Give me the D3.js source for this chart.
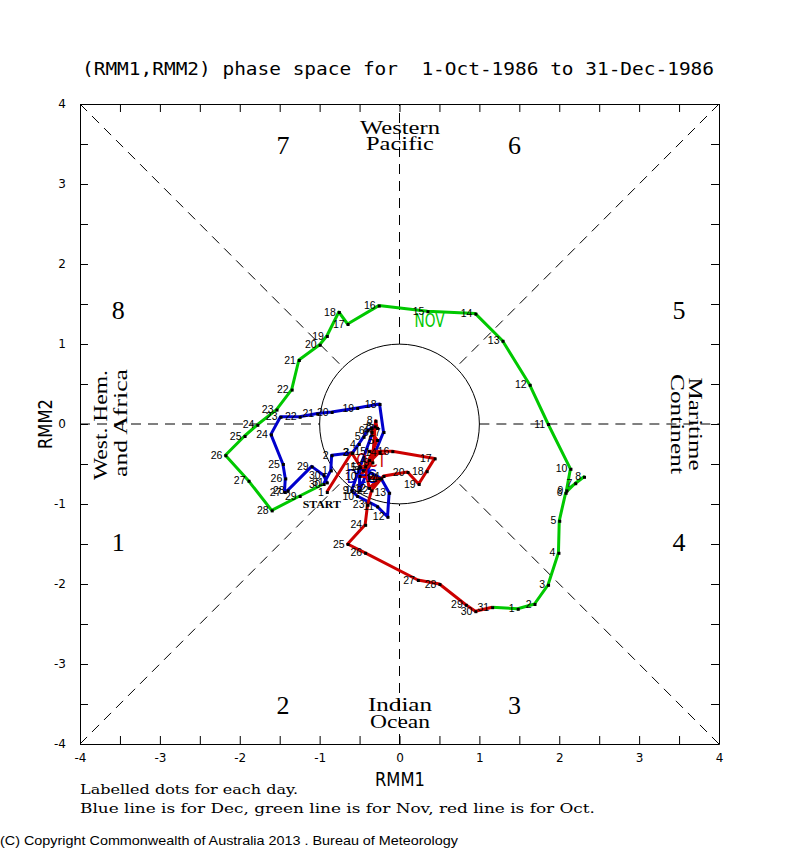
<!DOCTYPE html>
<html>
<head>
<meta charset="utf-8">
<script src="https://cdn.jsdelivr.net/npm/d3@7"></script>
<style>
  body { margin: 0; background: #fff; }
</style>
</head>
<body>
<div id="chart"></div>
<script>
// daily (RMM1, RMM2) values
var octRmm1 = [-0.91, -0.60, -0.46, -0.38, -0.28, -0.35, -0.28, -0.30, -0.34, -0.50,
               -0.25, -0.38, -0.43, -0.25, -0.38, -0.09, 0.44, 0.34, 0.24, 0.10,
               -0.20, -0.35, -0.40, -0.43, -0.65, -0.43, 0.23, 0.50, 0.83, 0.95, 1.16];
var octRmm2 = [-0.85, -0.36, -0.58, -0.45, -0.20, -0.10, -0.05, 0.04, -0.48, -0.65,
               -0.68, -0.80, -0.53, -0.35, -0.34, -0.34, -0.43, -0.59, -0.75, -0.60,
               -0.65, -0.83, -1.01, -1.26, -1.50, -1.61, -1.95, -2.00, -2.26, -2.34, -2.29];

var novRmm1 = [1.48, 1.69, 1.86, 1.99, 2.00, 2.08, 2.20, 2.31, 2.09, 2.14,
               1.86, 1.63, 1.29, 0.95, 0.35, -0.26, -0.65, -0.76, -0.91, -1.00,
               -1.26, -1.35, -1.54, -1.78, -1.94, -2.18, -1.89, -1.60, -1.25, -0.95];
var novRmm2 = [-2.31, -2.25, -2.01, -1.61, -1.21, -0.86, -0.74, -0.66, -0.83, -0.56,
               0.00, 0.49, 1.04, 1.38, 1.41, 1.48, 1.25, 1.40, 1.10, 0.99,
               0.80, 0.43, 0.18, -0.01, -0.15, -0.39, -0.71, -1.08, -0.90, -0.75];

var decRmm1 = [-0.86, -0.85, -0.59, -0.51, -0.45, -0.40, -0.35, -0.31, -0.60, -0.53,
               -0.28, -0.15, -0.13, -0.23, -0.50, -0.50, -0.20, -0.25, -0.53, -0.85,
               -1.03, -1.25, -1.49, -1.61, -1.46, -1.43, -1.44, -1.40, -1.10, -0.95, -0.91];
var decRmm2 = [-0.58, -0.39, -0.36, -0.25, -0.16, -0.08, -0.05, -0.03, -0.83, -0.90,
               -1.03, -1.16, -0.86, -0.68, -0.54, -0.83, -0.10, 0.25, 0.20, 0.15,
               0.13, 0.09, 0.09, -0.13, -0.50, -0.68, -0.85, -0.83, -0.53, -0.64, -0.73];

var monthNames = ["OCT", "NOV", "DEC"];
var tickValues = [-4, -3.5, -3, -2.5, -2, -1.5, -1, -0.5, 0, 0.5, 1, 1.5, 2, 2.5, 3, 3.5, 4];
var phaseNames = ["1", "2", "3", "4", "5", "6", "7", "8"];

var width = 800, height = 850;
var svg = d3.select("#chart").append("svg")
  .attr("width", width)
  .attr("height", height)
  .style("background", "#fff");

//scales
var x = d3.scaleLinear().domain([-4, 4]).range([80, 719]);
var y = d3.scaleLinear().domain([-4, 4]).range([744, 104]);

var sans = "'DejaVu Sans', sans-serif";
var serif = "'Liberation Serif', 'DejaVu Serif', serif";

//title
svg.append("text")
  .attr("x", 398).attr("y", 75)
  .attr("text-anchor", "middle")
  .attr("textLength", 632).attr("lengthAdjust", "spacingAndGlyphs")
  .style("white-space", "pre")
  .style("font-family", "'DejaVu Sans Mono', monospace")
  .style("font-size", "18px")
  .text("(RMM1,RMM2) phase space for  1-Oct-1986 to 31-Dec-1986");

//dashed guides
var r = 1 / Math.SQRT2;
var guides = [
  [[-4, -4], [-r, -r]], [[4, 4], [r, r]], [[-4, 4], [-r, r]], [[4, -4], [r, -r]],
  [[-4, 0], [-1, 0]], [[1, 0], [4, 0]], [[0, -4], [0, -1]], [[0, 1], [0, 4]]
];
svg.append("g").selectAll("line").data(guides).enter().append("line")
  .attr("x1", function(d) { return x(d[0][0]); })
  .attr("y1", function(d) { return y(d[0][1]); })
  .attr("x2", function(d) { return x(d[1][0]); })
  .attr("y2", function(d) { return y(d[1][1]); })
  .attr("stroke", "#000")
  .attr("stroke-width", 1)
  .attr("stroke-dasharray", "10,7");

//unit circle
svg.append("circle")
  .attr("cx", x(0)).attr("cy", y(0))
  .attr("r", x(1) - x(0))
  .attr("fill", "none").attr("stroke", "#000").attr("stroke-width", 1);

//axes
var fmt = function(d) { return d % 1 === 0 ? d : ""; };
var axes = svg.append("g").attr("class", "axes");
axes.append("g").attr("transform", "translate(0," + y(-4) + ")")
  .call(d3.axisBottom(x).tickValues(tickValues).tickSize(-8).tickSizeOuter(0).tickPadding(9).tickFormat(fmt));
axes.append("g").attr("transform", "translate(0," + y(4) + ")")
  .call(d3.axisTop(x).tickValues(tickValues).tickSize(-8).tickSizeOuter(0).tickFormat(""));
axes.append("g").attr("transform", "translate(" + x(-4) + ",0)")
  .call(d3.axisLeft(y).tickValues(tickValues).tickSize(-8).tickSizeOuter(0).tickPadding(14).tickFormat(fmt));
axes.append("g").attr("transform", "translate(" + x(4) + ",0)")
  .call(d3.axisRight(y).tickValues(tickValues).tickSize(-8).tickSizeOuter(0).tickFormat(""));
axes.selectAll("text").style("font-family", sans).style("font-size", "12px").attr("fill", "#000");
axes.selectAll("line").attr("stroke", "#000");
axes.selectAll(".domain").attr("stroke", "#000");

//axis titles
svg.append("text")
  .attr("x", 400).attr("y", 786)
  .attr("text-anchor", "middle")
  .attr("textLength", 50).attr("lengthAdjust", "spacingAndGlyphs")
  .style("font-family", sans).style("font-size", "20px")
  .text("RMM1");
svg.append("text")
  .attr("transform", "translate(52,424) rotate(-90)")
  .attr("text-anchor", "middle")
  .attr("textLength", 50).attr("lengthAdjust", "spacingAndGlyphs")
  .style("font-family", sans).style("font-size", "20px")
  .text("RMM2");

//phase numbers
var phasePos = [[-3.52, -1.47], [-1.46, -3.51], [1.44, -3.51], [3.5, -1.47],
                [3.5, 1.43], [1.44, 3.49], [-1.46, 3.49], [-3.52, 1.43]];
svg.append("g").selectAll("text").data(phaseNames).enter().append("text")
  .attr("x", function(d, i) { return x(phasePos[i][0]); })
  .attr("y", function(d, i) { return y(phasePos[i][1]); })
  .attr("dy", "0.35em")
  .attr("text-anchor", "middle")
  .style("font-family", serif).style("font-size", "26px")
  .text(function(d) { return d; });

//region names
function region(txt, tx, ty, rot, len) {
  svg.append("text")
    .attr("transform", "translate(" + tx + "," + ty + ") rotate(" + rot + ")")
    .attr("text-anchor", "middle")
    .attr("textLength", len).attr("lengthAdjust", "spacingAndGlyphs")
    .style("font-family", serif).style("font-size", "18px")
    .text(txt);
}
region("Western", 400, 134, 0, 80);
region("Pacific", 400, 150, 0, 68);
region("Indian", 400, 711, 0, 64);
region("Ocean", 400, 728, 0, 60);
region("West. Hem.", 107, 425, -90, 110);
region("and Africa", 127, 423, -90, 108);
region("Maritime", 689, 424, 90, 93);
region("Continent", 671, 424, 90, 100);

//month tracks
var months = [
  { name: monthNames[0], color: "#cc0000", x: octRmm1, y: octRmm2 },
  { name: monthNames[1], color: "#00c800", x: novRmm1, y: novRmm2 },
  { name: monthNames[2], color: "#0000cc", x: decRmm1, y: decRmm2 }
];
months.forEach(function(m, k) {
  m.pts = m.x.map(function(v, i) { return { day: i + 1, x: v, y: m.y[i] }; });
  //each month line starts from the last day of the previous month
  m.line = k > 0 ? [months[k - 1].pts[months[k - 1].pts.length - 1]].concat(m.pts) : m.pts;
});

var path = d3.line().x(function(d) { return x(d.x); }).y(function(d) { return y(d.y); });
var lineOrder = [months[2], months[1], months[0]];
svg.append("g").selectAll("path").data(lineOrder).enter().append("path")
  .attr("d", function(m) { return path(m.line); })
  .attr("fill", "none")
  .attr("stroke", function(m) { return m.color; })
  .attr("stroke-width", 3)
  .attr("stroke-linejoin", "round");

//month labels at mid month
svg.append("g").selectAll("text").data(months).enter().append("text")
  .attr("x", function(m) { return x(m.pts[14].x) + 2; })
  .attr("y", function(m) { return y(m.pts[14].y) + 16; })
  .attr("text-anchor", "middle")
  .attr("textLength", 30).attr("lengthAdjust", "spacingAndGlyphs")
  .attr("fill", function(m) { return m.color; })
  .style("font-family", sans).style("font-size", "19px")
  .text(function(m) { return m.name; });

//day dots and labels
var allPts = [];
months.forEach(function(m) { allPts = allPts.concat(m.pts); });
var days = svg.append("g");
days.selectAll("rect").data(allPts).enter().append("rect")
  .attr("x", function(d) { return x(d.x) - 1; })
  .attr("y", function(d) { return y(d.y) - 1; })
  .attr("width", 3).attr("height", 3)
  .attr("fill", "#000");
days.selectAll("text").data(allPts).enter().append("text")
  .attr("x", function(d) { return x(d.x) - 3; })
  .attr("y", function(d) { return y(d.y); })
  .attr("dy", "0.35em")
  .attr("text-anchor", "end")
  .style("font-family", "'Liberation Sans', Arial, sans-serif")
  .style("font-size", "10.5px")
  .text(function(d) { return d.day; });

//start label
svg.append("text")
  .attr("x", x(octRmm1[0]) - 5).attr("y", y(octRmm2[0]) + 16)
  .attr("text-anchor", "middle")
  .attr("textLength", 38).attr("lengthAdjust", "spacingAndGlyphs")
  .style("font-family", serif).style("font-size", "11px").style("font-weight", "bold")
  .text("START");

//footer
svg.append("text")
  .attr("x", 80).attr("y", 794)
  .attr("textLength", 218).attr("lengthAdjust", "spacingAndGlyphs")
  .style("font-family", "'DejaVu Serif', serif").style("font-size", "13px")
  .text("Labelled dots for each day.");
svg.append("text")
  .attr("x", 80).attr("y", 813)
  .attr("textLength", 515).attr("lengthAdjust", "spacingAndGlyphs")
  .style("font-family", "'DejaVu Serif', serif").style("font-size", "13px")
  .text("Blue line is for Dec, green line is for Nov, red line is for Oct.");
svg.append("text")
  .attr("x", 0).attr("y", 845)
  .attr("textLength", 458).attr("lengthAdjust", "spacingAndGlyphs")
  .style("font-family", "'Liberation Sans', Arial, sans-serif").style("font-size", "13px")
  .text("(C) Copyright Commonwealth of Australia 2013 . Bureau of Meteorology");
</script>
</body>
</html>
